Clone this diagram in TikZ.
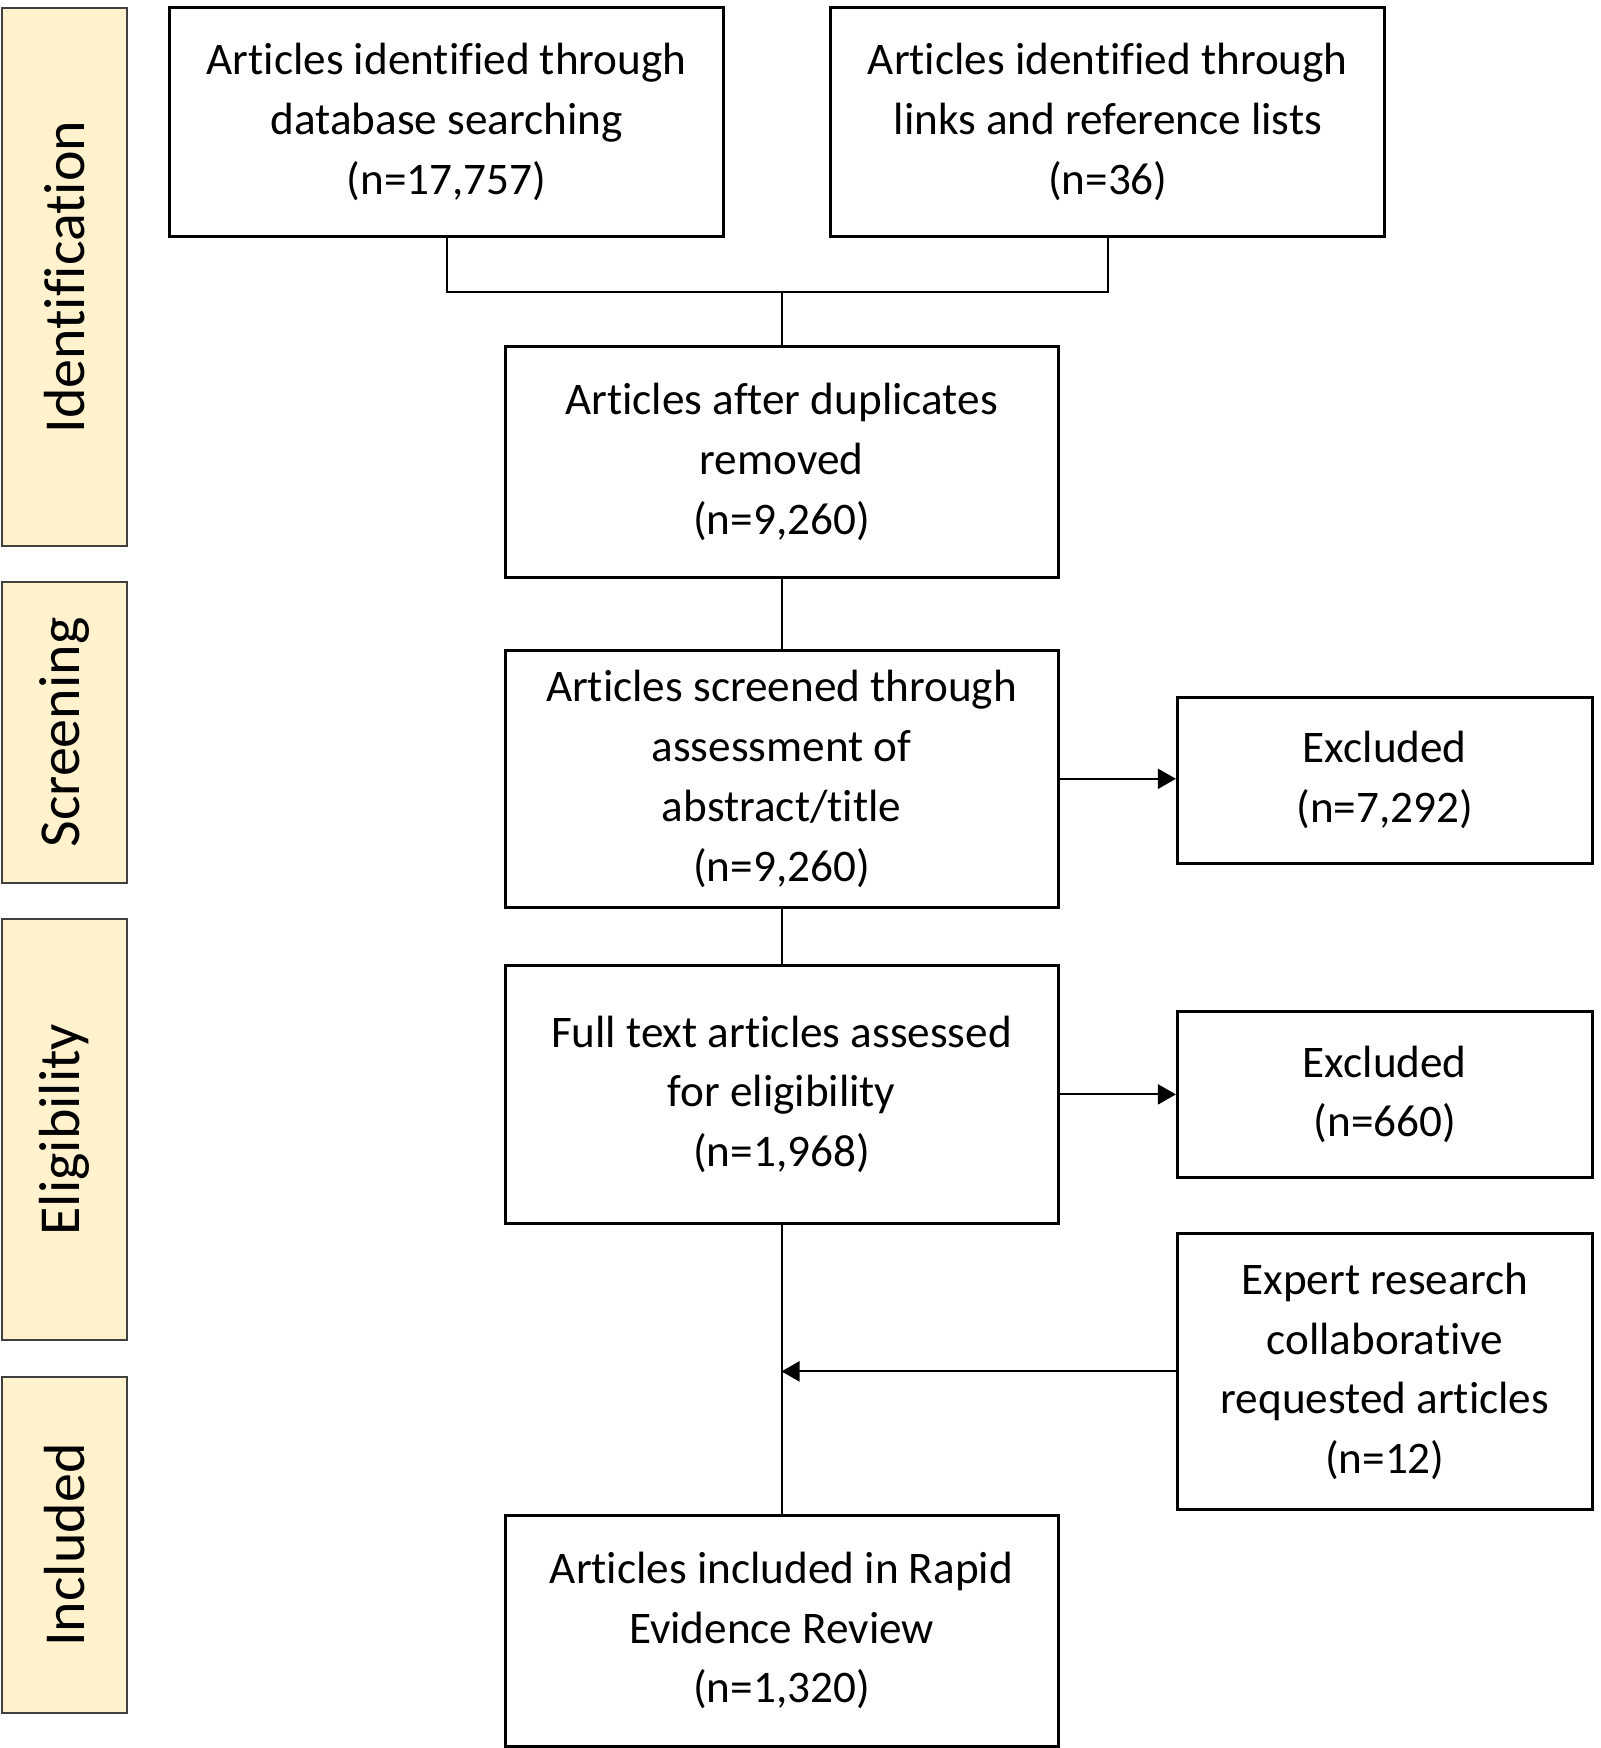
\documentclass[tikz,border=0pt]{standalone}
\usepackage{fontspec}
\setmainfont{Carlito}[RawFeature={-liga}]
\usepackage{tikz}
\definecolor{stagefill}{RGB}{255, 242, 204}
\usetikzlibrary{
  arrows.meta,
  calc,
  positioning,
}
\tikzset{
  >={Triangle[length=9pt,width=10pt]},
  flowbox/.style={draw,rectangle,line width=1.5pt,align=center,inner sep=4pt,
    font=\fontsize{22.6}{29.9}\selectfont},
  stagebar/.style={draw=black!75,fill=stagefill,line width=1pt,rectangle,
    minimum width=62.4pt,inner sep=0pt},
  stagetext/.style={rotate=90,font=\fontsize{29}{34}\selectfont},
  link/.style={line width=1pt},
}
\begin{document}
\begin{tikzpicture}
    \useasboundingbox (0,0) rectangle (800pt,-874pt);

        % stage bars on the left
        \node[stagebar,minimum height=269pt]   (ident)  at (32.3pt,-138.5pt) {};
        \node[stagebar,minimum height=150.5pt] (screen) at (32.3pt,-366.3pt) {};
        \node[stagebar,minimum height=210.5pt] (elig)   at (32.3pt,-564.8pt) {};
        \node[stagebar,minimum height=168pt]   (incl)   at (32.3pt,-772.5pt) {};
        \node[stagetext] at (ident)  {Identification};
        \node[stagetext] at (screen) {Screening};
        \node[stagetext] at (elig)   {Eligibility};
        \node[stagetext] at (incl)   {Included};

        % main column
        \node[flowbox,minimum width=277pt,minimum height=114.8pt]   (boxA) at (223.3pt,-61pt)   {Articles identified through\\database searching\\(n=17,757)};
        \node[flowbox,minimum width=277pt,minimum height=114.8pt]   (boxB) at (553.9pt,-61pt)   {Articles identified through\\links and reference lists\\(n=36)};
        \node[flowbox,minimum width=276.5pt,minimum height=115.4pt] (boxC) at (390.75pt,-231.1pt) {Articles after duplicates\\removed\\(n=9,260)};
        \node[flowbox,minimum width=276.5pt,minimum height=128.8pt] (boxD) at (390.75pt,-389.4pt) {Articles screened through\\assessment of\\abstract/title\\(n=9,260)};
        \node[flowbox,minimum width=276.5pt,minimum height=128.7pt] (boxE) at (390.75pt,-547.2pt) {Full text articles assessed\\for eligibility\\(n=1,968)};
        \node[flowbox,minimum width=276.5pt,minimum height=115.5pt] (boxF) at (390.75pt,-815.3pt) {Articles included in Rapid\\Evidence Review\\(n=1,320)};

        % side column
        \node[flowbox,minimum width=207.4pt,minimum height=83pt]  (excl1)  at (692.4pt,-390pt)   {Excluded\\(n=7,292)};
        \node[flowbox,minimum width=207.4pt,minimum height=83pt]  (excl2)  at (692.4pt,-547.2pt) {Excluded\\(n=660)};
        \node[flowbox,minimum width=207.4pt,minimum height=138pt] (expert) at (692.4pt,-685.7pt) {Expert research\\collaborative\\requested articles\\(n=12)};

        \coordinate (join) at (boxC.north |- 0,-146pt);

        \draw[link] (boxA.south) |- (join) -| (boxB.south);
        \draw[link] (join) -- (boxC.north);
        \draw[link] (boxC.south) -- (boxD.north);
        \draw[link] (boxD.south) -- (boxE.north);
        \draw[link] (boxE.south) -- (boxF.north);
        \draw[link,->] (boxD.east) -- (boxD.east -| excl1.west);
        \draw[link,->] (boxE.east) -- (boxE.east -| excl2.west);
        \draw[link,->] (expert.west) -- (expert.west -| boxE.south);

\end{tikzpicture}
\end{document}
